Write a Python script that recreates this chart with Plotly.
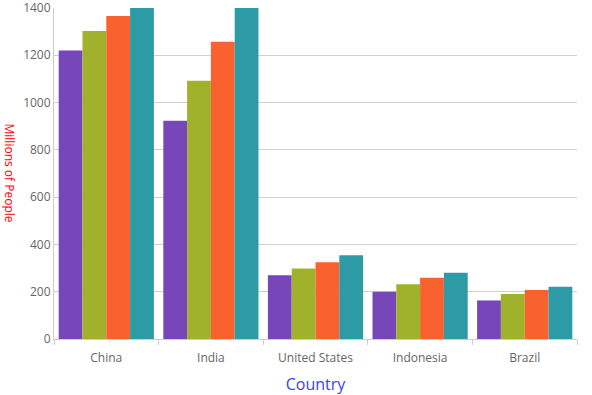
import plotly.graph_objects as go

countries = ["China", "India", "United States", "Indonesia", "Brazil"]
series_names = ["1990", "2000", "2010", "2020"]
s1 = [1220, 923, 270, 200, 163]
s2 = [1303, 1092, 298, 232, 190]
s3 = [1366, 1257, 325, 259, 207]
s4 = [1400, 1400, 354, 280, 221]
colors = ["#7747BA", "#A0B22B", "#F9622F", "#2C9BA5"]

fig = go.Figure()
for name, vals, c in zip(series_names, [s1, s2, s3, s4], colors):
    fig.add_trace(go.Bar(x=countries, y=vals, name=name, marker_color=c,
                         marker_line_width=0))

fig.update_layout(
    width=592, height=395,
    margin=dict(l=54, r=15, t=8, b=56),
    barmode="group", bargap=0.09, bargroupgap=0,
    plot_bgcolor="white", paper_bgcolor="white",
    showlegend=False,
    font=dict(family="Open Sans, sans-serif", size=12, color="#666"),
)
fig.update_xaxes(
    title=dict(text="Country", font=dict(size=16, color="#3D3DFF")),
    showline=True, linecolor="#ccc", linewidth=1,
    ticks="outside", tickson="boundaries", ticklen=5, tickcolor="#ccc",
    showgrid=False, tickfont=dict(size=12, color="#666"),
    ticklabelstandoff=8,
    automargin=False,
)
fig.update_yaxes(
    range=[0, 1400], dtick=200,
    showline=True, linecolor="#ccc", linewidth=1,
    gridcolor="#d0d0d0", gridwidth=1, zeroline=False,
    tickfont=dict(size=12, color="#666"), ticks="",
    automargin=False, ticklabeloverflow="allow",
)
fig.add_annotation(
    text="Millions of People", textangle=90,
    xref="paper", yref="paper", x=-45 / 523, y=0.503,
    xanchor="center", yanchor="middle", showarrow=False,
    font=dict(size=12, color="red"),
)
fig.write_html("out.html", config={"displayModeBar": False},
               post_script="document.body.style.margin='0';document.body.style.overflow='hidden';")
